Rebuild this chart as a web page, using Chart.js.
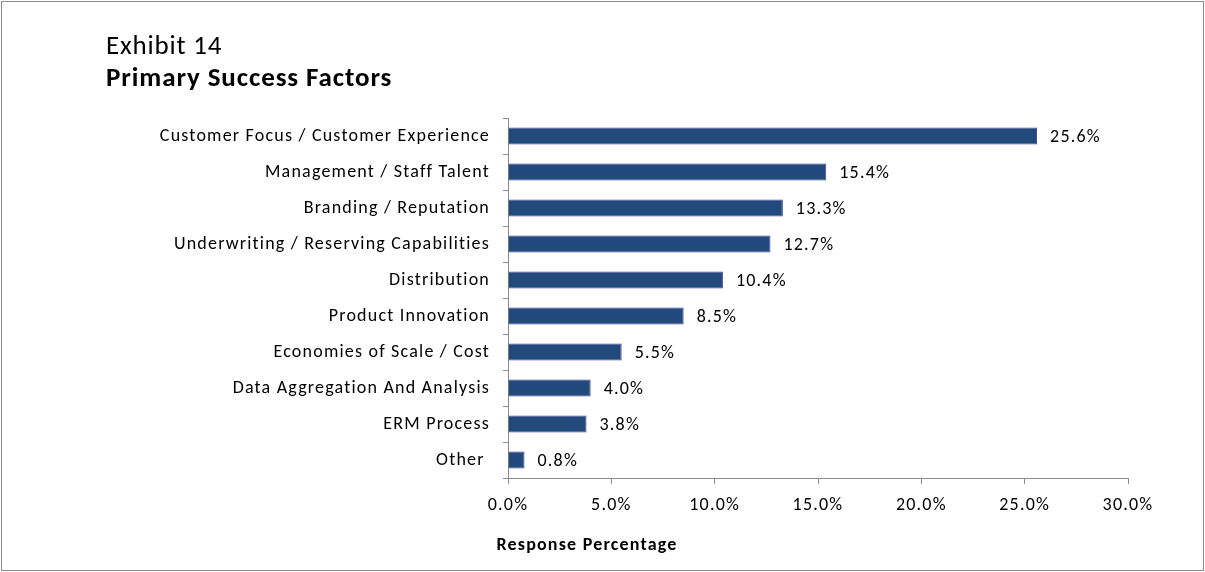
<!DOCTYPE html>
<html><head><meta charset="utf-8">
<script src="https://cdn.jsdelivr.net/npm/chart.js@4.4.1/dist/chart.umd.min.js"></script>
<style>html,body{margin:0;padding:0;background:#fff}#wrap{width:1205px;height:572px;position:relative}</style>
</head><body><div id="wrap"><canvas id="c" width="1205" height="572"></canvas></div>
<script>
const categories = ["Customer Focus / Customer Experience","Management / Staff Talent","Branding / Reputation","Underwriting / Reserving Capabilities","Distribution","Product Innovation","Economies of Scale / Cost","Data Aggregation And Analysis","ERM Process","Other "];
const values = [25.6, 15.4, 13.3, 12.7, 10.4, 8.5, 5.5, 4.0, 3.8, 0.8];
const xTicks = [0, 5, 10, 15, 20, 25, 30];
const titleLine1 = "Exhibit 14";
const titleLine2 = "Primary Success Factors";
const axisTitle = "Response Percentage";

const FONT = "Carlito, Lato, 'Open Sans', sans-serif";

const deco = {
  id: 'deco',
  beforeDraw(chart) {
    chart.ctx.letterSpacing = '1.2px';
  },
  afterDatasetsDraw(chart) {
    const ctx = chart.ctx;
    const meta = chart.getDatasetMeta(0);
    ctx.save();
    ctx.letterSpacing = '1.2px';
    ctx.fillStyle = '#000';
    ctx.font = '18px ' + FONT;
    ctx.textAlign = 'left';
    ctx.textBaseline = 'middle';
    meta.data.forEach((bar, i) => {
      ctx.fillText(values[i].toFixed(1) + '%', bar.x + 13, bar.y + 1);
    });
    ctx.restore();
  },
  afterDraw(chart) {
    const ctx = chart.ctx;
    ctx.save();
    ctx.fillStyle = '#000';
    ctx.textAlign = 'left';
    ctx.textBaseline = 'alphabetic';
    ctx.letterSpacing = '0.8px';
    ctx.font = '27px ' + FONT;
    ctx.fillText(titleLine1, 106, 54);
    ctx.letterSpacing = '0.9px';
    ctx.font = 'bold 27px ' + FONT;
    ctx.fillText(titleLine2, 106, 86);
    ctx.letterSpacing = '1.2px';
    ctx.font = 'bold 18px ' + FONT;
    ctx.textAlign = 'center';
    ctx.fillText(axisTitle, 587, 550);
    ctx.strokeStyle = '#8c8c8c';
    ctx.lineWidth = 1;
    ctx.strokeRect(1.5, 1.5, 1202, 569);
    ctx.restore();
  }
};

new Chart(document.getElementById('c'), {
  type: 'bar',
  data: {
    labels: categories,
    datasets: [{
      data: values,
      backgroundColor: '#21497c',
      borderColor: '#4040a0',
      borderWidth: 1,
      barPercentage: 0.94,
      categoryPercentage: 0.5
    }]
  },
  options: {
    indexAxis: 'y',
    responsive: false,
    animation: false,
    devicePixelRatio: 1,
    layout: { padding: { left: 0, right: 77, top: 118, bottom: 14 } },
    plugins: { legend: { display: false }, tooltip: { enabled: false }, title: { display: false } },
    scales: {
      x: {
        min: 0, max: 30,
        afterBuildTicks: s => { s.ticks = xTicks.map(v => ({ value: v })); },
        afterFit: s => { s.height = 80; },
        grid: { drawOnChartArea: false, drawTicks: true, tickLength: 6, color: '#8c8c8c' },
        border: { color: '#8c8c8c', width: 1 },
        ticks: { color: '#000', font: { family: FONT, size: 18 }, padding: 11, maxRotation: 0,
          callback: v => Number(v).toFixed(1) + '%' }
      },
      y: {
        afterFit: s => { s.width = 508; },
        grid: { drawOnChartArea: false, drawTicks: true, tickLength: 5, color: '#8c8c8c', offset: true },
        border: { color: '#8c8c8c', width: 1 },
        ticks: { color: '#000', font: { family: FONT, size: 18 }, padding: 13, autoSkip: false }
      }
    }
  },
  plugins: [deco]
});
</script></body></html>
